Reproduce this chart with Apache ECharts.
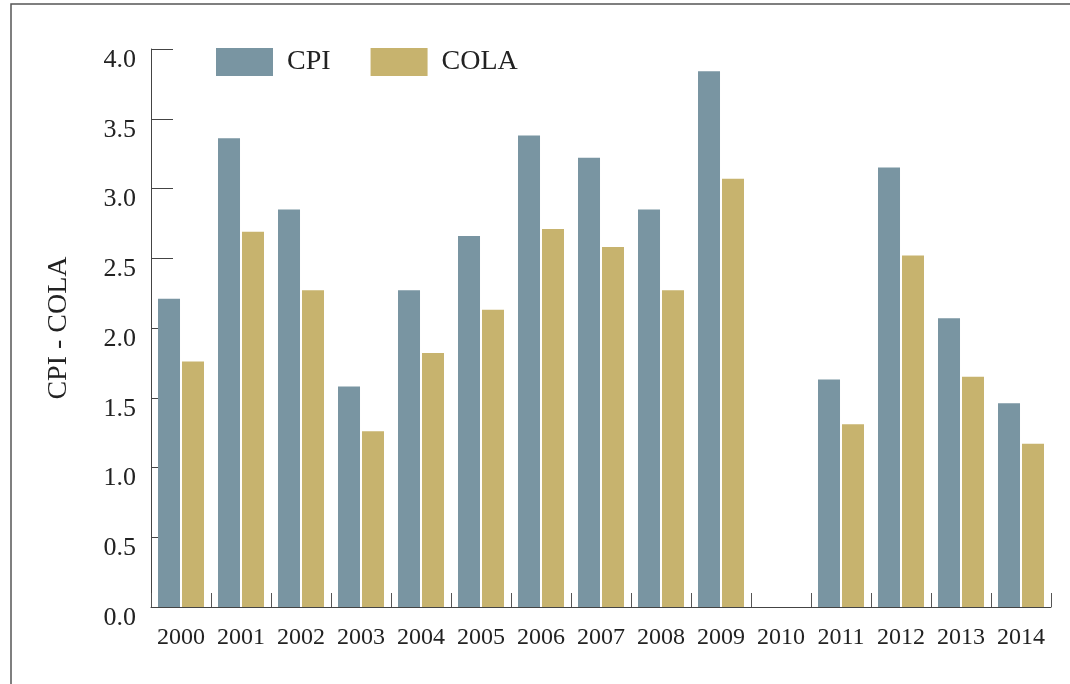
<!DOCTYPE html>
<html>
<head>
<meta charset="utf-8">
<script src="https://cdn.jsdelivr.net/npm/echarts@6/dist/echarts.min.js"></script>
<style>html,body{margin:0;padding:0;background:#fff}#c{width:1070px;height:684px}</style>
</head>
<body>
<div id="c"></div>
<script>
const years = ['2000','2001','2002','2003','2004','2005','2006','2007','2008','2009','2010','2011','2012','2013','2014'];
const cpi  = [2.21, 3.36, 2.85, 1.58, 2.27, 2.66, 3.38, 3.22, 2.85, 3.84, 0, 1.63, 3.15, 2.07, 1.46];
const cola = [1.76, 2.69, 2.27, 1.26, 1.82, 2.13, 2.71, 2.58, 2.27, 3.07, 0, 1.31, 2.52, 1.65, 1.17];
const yTicks = ['0.0','0.5','1.0','1.5','2.0','2.5','3.0','3.5','4.0'];

const font = '"Liberation Serif", "DejaVu Serif", serif';
const chart = echarts.init(document.getElementById('c'));
chart.setOption({
  animation: false,
  backgroundColor: '#fff',
  graphic: [{
    type: 'rect', silent: true,
    shape: { x: 11, y: 4, width: 1200, height: 800 },
    style: { fill: 'none', stroke: '#555', lineWidth: 1.5 }
  }],
  legend: {
    left: 216, top: 48, padding: 0,
    itemWidth: 57, itemHeight: 28, itemGap: 40,
    icon: 'rect',
    textStyle: { fontFamily: font, fontSize: 28, color: '#222', padding: [0, 0, 0, 9] },
    data: ['CPI', 'COLA']
  },
  grid: { left: 151, right: 19, top: 49, bottom: 77 },
  xAxis: {
    type: 'category',
    data: years,
    axisLine: { show: true, lineStyle: { color: '#444', width: 1 } },
    axisTick: { show: true, inside: true, length: 14, interval: 0, alignWithLabel: false, lineStyle: { color: '#555', width: 1 } },
    axisLabel: { fontFamily: font, fontSize: 24, color: '#222', margin: 19, interval: 0 }
  },
  yAxis: {
    type: 'value', min: 0, max: 4, interval: 0.5,
    name: 'CPI - COLA', nameLocation: 'middle', nameGap: 78, nameRotate: 90,
    nameTextStyle: { fontFamily: font, fontSize: 28, color: '#222' },
    splitLine: { show: false },
    axisLine: { show: true, lineStyle: { color: '#444', width: 1 } },
    axisTick: { show: true, inside: true, length: 22, lineStyle: { color: '#444' } },
    axisLabel: {
      fontFamily: font, fontSize: 26, color: '#222', margin: 15,
      verticalAlign: 'top', lineHeight: 22,
      formatter: v => yTicks[Math.round(v / 0.5)]
    }
  },
  series: [
    { name: 'CPI', type: 'bar', data: cpi, barWidth: 22, barGap: '9%', itemStyle: { color: '#7995a2' } },
    { name: 'COLA', type: 'bar', data: cola, barWidth: 22, itemStyle: { color: '#c7b36e' } }
  ]
});
</script>
</body>
</html>
